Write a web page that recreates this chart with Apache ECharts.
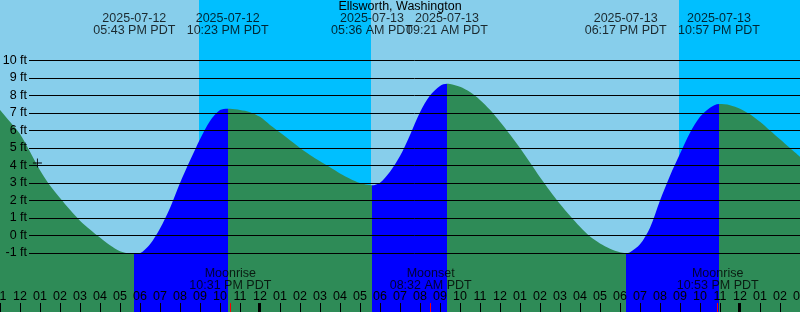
<!DOCTYPE html>
<html><head><meta charset="utf-8">
<script src="https://cdn.jsdelivr.net/npm/echarts@6/dist/echarts.min.js"></script>
<style>html,body{margin:0;padding:0;background:#87CEEB}#c{width:800px;height:312px}</style>
</head><body><div id="c"></div>
<script>
// ---- data ----
const stationName = 'Ellsworth, Washington';
const baseDate = '2025-07-12';
const tideDates = ['2025-07-12', '2025-07-12', '2025-07-13', '2025-07-13', '2025-07-13', '2025-07-13'];
const tideClock = ['05:43 PM', '10:23 PM', '05:36 AM', '09:21 AM', '06:17 PM', '10:57 PM'];
const tideFeet = [-1.06, 7.25, 2.87, 8.67, -1.0, 7.51];
const tideKinds = ['low', 'high', 'low', 'high', 'low', 'high'];
// curve readings every half hour (hours after 2025-07-12 00:00, feet)
const sampleHours = [11.0, 11.5, 12.0, 12.5, 13.0, 13.5, 14.0, 14.5, 15.0, 15.5, 16.0, 16.5, 17.0, 17.5,
  18.0, 18.5, 19.0, 19.5, 20.0, 20.5, 21.0, 21.5, 22.0,
  22.5, 23.0, 23.5, 24.0, 24.5, 25.0, 25.5, 26.0, 26.5, 27.0, 27.5, 28.0, 28.5, 29.0,
  30.0, 30.5, 31.0, 31.5, 32.0, 32.5, 33.0,
  33.5, 34.0, 34.5, 35.0, 35.5, 36.0, 36.5, 37.0, 37.5, 38.0, 38.5, 39.0, 39.5, 40.0, 40.5, 41.0, 41.5, 42.0,
  42.5, 43.0, 43.5, 44.0, 44.5, 45.0, 45.5, 46.0, 46.5,
  47.5, 48.0, 48.5, 49.0, 49.5, 50.0, 50.5, 51.0];
const sampleFeet = [7.17, 6.5, 5.8, 4.78, 3.73, 2.86, 2.14, 1.47, 0.85, 0.35, -0.12, -0.56, -0.9, -1.04,
  -1.02, -0.5, 0.4, 1.57, 3.0, 4.28, 5.5, 6.55, 7.17,
  7.24, 7.17, 7.05, 6.78, 6.32, 5.88, 5.44, 5.0, 4.6, 4.24, 3.9, 3.55, 3.25, 3.0,
  3.02, 3.65, 4.54, 5.75, 7.05, 8.0, 8.55,
  8.66, 8.5, 8.2, 7.75, 7.18, 6.5, 5.77, 5.0, 4.17, 3.33, 2.55, 1.8, 1.13, 0.5, -0.06, -0.45, -0.75, -0.95,
  -0.95, -0.5, 0.45, 2.0, 3.42, 4.67, 5.87, 6.78, 7.3,
  7.45, 7.25, 6.93, 6.5, 6.0, 5.5, 5.0, 4.5];
const sunKinds = ['sunset', 'sunrise', 'sunset'];
const sunDates = ['2025-07-12', '2025-07-13', '2025-07-13'];
const sunClock = ['08:57 PM', '05:33 AM', '08:57 PM'];
const moonKinds = ['Moonrise', 'Moonset', 'Moonrise'];
const moonDates = ['2025-07-12', '2025-07-13', '2025-07-13'];
const moonClock = ['10:31 PM', '08:32 AM', '10:53 PM'];
const heightTicks = [10, 9, 8, 7, 6, 5, 4, 3, 2, 1, 0, -1];
const markHour = 12.87, markFeet = 4.14;
const startHour = 11, endHour = 51;
const tz = 'PDT';

// ---- helpers ----
function hoursOf(date, clock) {
  const d0 = new Date(baseDate + 'T00:00:00Z'), d1 = new Date(date + 'T00:00:00Z');
  const days = Math.round((d1 - d0) / 86400000);
  const m = clock.match(/(\d+):(\d+)\s*(AM|PM)/);
  let h = (+m[1]) % 12; if (m[3] === 'PM') h += 12;
  return days * 24 + h + (+m[2]) / 60;
}
const tideH = tideDates.map((d, i) => hoursOf(d, tideClock[i]));
const sunH = sunDates.map((d, i) => hoursOf(d, sunClock[i]));
const moonH = moonDates.map((d, i) => hoursOf(d, moonClock[i]));

const pts = sampleHours.map((h, i) => [h, sampleFeet[i]]).concat(tideH.map((h, i) => [h, tideFeet[i]]));
pts.sort((a, b) => a[0] - b[0]);

const GREEN = '#2E8B57', BLUE = '#0000FF', DAY = '#87CEEB', NIGHT = '#00BFFF';
const pieces = [];
tideH.forEach((h, i) => {
  const col = tideKinds[i] === 'low' ? GREEN : BLUE;
  if (i === 0) pieces.push({ lte: h, color: col });
  else pieces.push({ gt: tideH[i - 1], lte: h, color: col });
});
pieces.push({ gt: tideH[tideH.length - 1], color: tideKinds[tideKinds.length - 1] === 'high' ? GREEN : BLUE });

// night spans
const nights = [];
let nightStart = null;
sunKinds.forEach((k, i) => {
  if (k === 'sunset') nightStart = sunH[i];
  else { nights.push([{ xAxis: nightStart === null ? startHour : nightStart }, { xAxis: sunH[i] }]); nightStart = null; }
});
if (nightStart !== null) nights.push([{ xAxis: nightStart }, { xAxis: endHour }]);

const FONT = 'Liberation Sans';
const FS = 12.5;
const yMin = -4.371, yMax = 13.457;
const gridLineStart = 12.45;
const tickTop = -3.86;

const gridLines = heightTicks.map(v => [
  { name: v + ' ft', xAxis: gridLineStart, yAxis: v },
  { xAxis: endHour, yAxis: v }
]);
const midnights = [];
for (let h = Math.ceil(startHour / 24) * 24; h <= endHour; h += 24) midnights.push(h);
const tickMarks = midnights.map(h => [
  { xAxis: h - 0.04, yAxis: tickTop, lineStyle: { color: '#000', width: 3 } }, { xAxis: h - 0.04, yAxis: yMin }
]).concat(moonH.map(h => [
  { xAxis: h, yAxis: tickTop, lineStyle: { color: '#FF0000', width: 1 } }, { xAxis: h, yAxis: yMin }
]));

const chart = echarts.init(document.getElementById('c'), null, { renderer: 'canvas' });
chart.setOption({
  animation: false,
  backgroundColor: DAY,
  textStyle: { fontFamily: FONT },
  title: {
    text: stationName, left: 'center', top: 0, padding: 0,
    textStyle: { fontSize: FS, fontWeight: 'normal', color: '#000', fontFamily: FONT, lineHeight: 14 }
  },
  grid: { left: 0, right: 0, top: 0, bottom: 0, containLabel: false, outerBoundsMode: 'none' },
  xAxis: {
    type: 'value', min: startHour, max: endHour, interval: 1, z: 10,
    axisLine: { show: false, onZero: false },
    axisTick: { show: true, inside: true, length: 9, lineStyle: { color: '#000', width: 1 } },
    splitLine: { show: false },
    axisLabel: {
      show: true, inside: true, margin: 15, verticalAlign: 'middle', color: '#000',
      fontSize: FS, fontFamily: FONT, showMinLabel: true, showMaxLabel: true, hideOverlap: false,
      formatter: function (h) { const x = (Math.round(h) % 12) || 12; return (x < 10 ? '0' : '') + x; }
    }
  },
  yAxis: { type: 'value', min: yMin, max: yMax, show: false, splitLine: { show: false } },
  visualMap: { type: 'piecewise', show: false, dimension: 0, seriesIndex: 1, pieces: pieces },
  series: [
    { type: 'line', data: [], z: 1, silent: true,
      markArea: { silent: true, itemStyle: { color: NIGHT, opacity: 1 }, data: nights } },
    { type: 'line', data: pts, z: 2, smooth: 0.3, symbol: 'none', silent: true,
      lineStyle: { width: 0 }, areaStyle: { opacity: 1, origin: 'start' } },
    { type: 'line', data: [], z: 5, silent: true,
      markLine: { silent: true, symbol: 'none', animation: false,
        lineStyle: { color: '#000', width: 1, type: 'solid' },
        label: { show: true, position: 'start', distance: 2, color: '#000', fontSize: FS, fontFamily: FONT, formatter: '{b}' },
        data: gridLines } },
    { type: 'line', data: [], z: 11, silent: true,
      markLine: { silent: true, symbol: 'none', animation: false, label: { show: false },
        lineStyle: { type: 'solid' }, data: tickMarks } },
    { type: 'scatter', z: 12, silent: true, symbolSize: 0,
      data: tideH.map((h, i) => ({ value: [h, 12.03], date: tideDates[i], time: tideClock[i] + ' ' + tz })),
      label: { show: true, position: 'inside', color: '#000', fontSize: FS, fontFamily: FONT, lineHeight: 12,
        formatter: p => p.data.date + '\n' + p.data.time } },
    { type: 'scatter', z: 12, silent: true, symbolSize: 0,
      data: moonH.map((h, i) => ({ value: [h, -2.543], kind: moonKinds[i], time: moonClock[i] + ' ' + tz })),
      label: { show: true, position: 'inside', color: '#000', fontSize: FS, fontFamily: FONT, lineHeight: 12,
        formatter: p => p.data.kind + '\n' + p.data.time } },
    { type: 'scatter', z: 12, silent: true, symbolSize: 9,
      symbol: 'path://M0,4.5h10v1h-10z M4.5,0h1v10h-1z',
      itemStyle: { color: '#000', opacity: 1 }, data: [[markHour, markFeet]] }
  ]
});
</script></body></html>
